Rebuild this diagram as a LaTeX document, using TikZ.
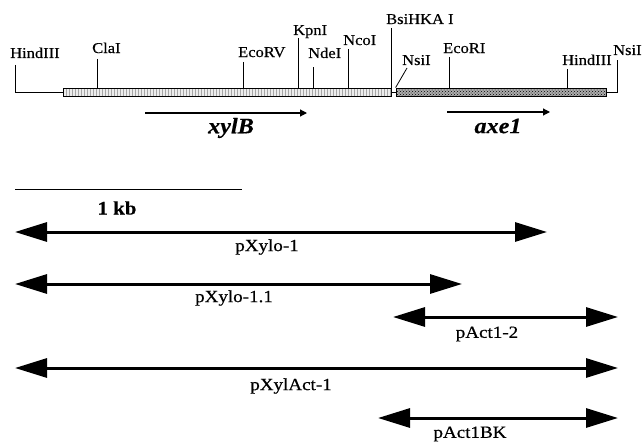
\documentclass[tikz,border=0pt]{standalone}
\usepackage{fontspec}
\setmainfont{Liberation Serif}
\newfontfamily\sitefont[FakeStretch=1.1,FakeBold=0.4]{Liberation Serif}
\newfontfamily\clonefont[FakeStretch=1.12,FakeBold=0.6]{Liberation Serif}
\usetikzlibrary{arrows.meta,patterns}

\begin{document}
\begin{tikzpicture}[x=1pt,y=-1pt,
    site/.style={font=\sitefont\fontsize{15}{15}\selectfont, inner sep=0pt, anchor=base west},
    clonelabel/.style={font=\clonefont\fontsize{17}{17}\selectfont, inner sep=0pt},
    genelabel/.style={font=\sitefont\fontsize{22}{22}\selectfont\bfseries\itshape, inner sep=0pt},
    clone/.style={line width=3pt, {Triangle[length=32pt,width=19pt]}-{Triangle[length=32pt,width=19pt]}},
    gene/.style={line width=1.2pt, -{Triangle[length=7pt,width=7pt]}},
    cut/.style={line width=0.8pt},
    bar/.style={draw, line width=0.8pt, minimum height=8pt, inner sep=0pt}]
  \useasboundingbox (0,0) rectangle (642,444);
  % Insert bars
  \node[bar, minimum width=328pt, preaction={fill=gray!15}, pattern=vertical lines, pattern color=gray!70] (xylbar) at (227,92) {};
  \node[bar, minimum width=210pt, preaction={fill=gray!65}, pattern=crosshatch dots, pattern color=black] (axebar) at (501,92) {};
  % Vector ends
  \coordinate (hindLtop) at (15,65);
  \coordinate (nsiRtop) at (617,60);
  \draw[cut] (hindLtop) |- (xylbar.west);
  \draw[cut] (axebar.east) -| (nsiRtop);
  \draw[cut] (xylbar.east) -- (axebar.west);
  % Restriction sites
  \coordinate (clatop) at (97,59);
  \coordinate (ecorvtop) at (243,62);
  \coordinate (kpntop) at (298,38);
  \coordinate (ndetop) at (313,67);
  \coordinate (ncotop) at (348,49);
  \coordinate (bsitop) at (391,28);
  \coordinate (nsiMtop) at (407,68);
  \coordinate (ecoritop) at (449,57);
  \coordinate (hindRtop) at (567,69);
  \draw[cut] (clatop) -- (clatop |- xylbar.north);
  \draw[cut] (ecorvtop) -- (ecorvtop |- xylbar.north);
  \draw[cut] (kpntop) -- (kpntop |- xylbar.north);
  \draw[cut] (ndetop) -- (ndetop |- xylbar.north);
  \draw[cut] (ncotop) -- (ncotop |- xylbar.north);
  \draw[cut] (bsitop) -- (bsitop |- xylbar.south);
  \draw[cut] (nsiMtop) -- (axebar.north west);
  \draw[cut] (ecoritop) -- (ecoritop |- axebar.north);
  \draw[cut] (hindRtop) -- (hindRtop |- axebar.north);
  % Site labels
  \node[site] (hindL) at (10,58) {HindIII};
  \node[site] (cla) at (92,53) {ClaI};
  \node[site] (ecorv) at (238,57) {EcoRV};
  \node[site] (kpn) at (293,35) {KpnI};
  \node[site] (nde) at (308,58) {NdeI};
  \node[site] (nco) at (343,45) {NcoI};
  \node[site] (bsi) at (386,24) {BsiHKA I};
  \node[site] (nsiM) at (402,65) {NsiI};
  \node[site] (ecori) at (443,53) {EcoRI};
  \node[site] (hindR) at (562,65) {HindIII};
  \node[site] (nsiR) at (613,55) {NsiI};
  % Genes
  \coordinate (xylA) at (145,113);
  \coordinate (xylB) at (307,113);
  \coordinate (axeA) at (447,112);
  \coordinate (axeB) at (550,112);
  \draw[gene] (xylA) -- (xylB);
  \draw[gene] (axeA) -- (axeB);
  \node[genelabel] (xyllab) at (231,128) {xylB};
  \node[genelabel] (axelab) at (498,126) {axe1};
  % Scale bar
  \coordinate (kbA) at (15,189);
  \coordinate (kbB) at (242,189);
  \draw[line width=1pt] (kbA) -- (kbB);
  \node[font=\sitefont\fontsize{19}{19}\selectfont\bfseries, inner sep=0pt] (kb) at (117,208) {1 kb};
  % Subclones
  \coordinate (px1A) at (15,232);
  \coordinate (px1B) at (547,232);
  \coordinate (px11A) at (15,284);
  \coordinate (px11B) at (462,284);
  \coordinate (pa12A) at (393,317);
  \coordinate (pa12B) at (618,317);
  \coordinate (pxaA) at (15,368);
  \coordinate (pxaB) at (618,368);
  \coordinate (pabkA) at (378,418);
  \coordinate (pabkB) at (618,418);
  \draw[clone] (px1A) -- (px1B);
  \draw[clone] (px11A) -- (px11B);
  \draw[clone] (pa12A) -- (pa12B);
  \draw[clone] (pxaA) -- (pxaB);
  \draw[clone] (pabkA) -- (pabkB);
  \node[clonelabel] (px1) at (267,247) {pXylo-1};
  \node[clonelabel] (px11) at (234,298) {pXylo-1.1};
  \node[clonelabel] (pa12) at (487,334) {pAct1-2};
  \node[clonelabel] (pxa) at (291,386) {pXylAct-1};
  \node[clonelabel] (pabk) at (470,434) {pAct1BK};
\end{tikzpicture}
\end{document}
